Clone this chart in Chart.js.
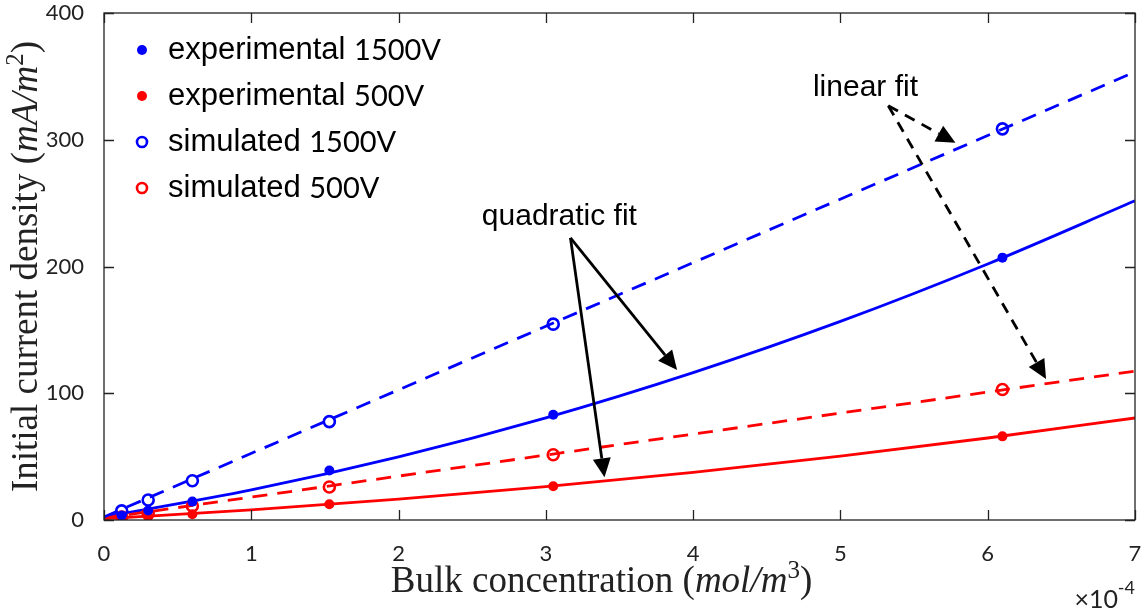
<!DOCTYPE html>
<html>
<head>
<meta charset="utf-8">
<script src="https://cdn.jsdelivr.net/npm/chart.js@4.4.1/dist/chart.umd.min.js"></script>
<style>
  html, body { margin: 0; padding: 0; background: #fff; }
</style>
</head>
<body>
<canvas id="chart" width="1145" height="612"></canvas>
<script>
// bulk concentration, in units of 1e-4 mol/m^3
const conc = [0.12, 0.3, 0.6, 1.53, 3.05, 6.1];
const exp1500 = [3.5, 7.5, 14.5, 39, 83, 207];
const exp500 = [1.2, 2.7, 4.6, 12.4, 26.6, 66];
const sim1500 = [7.2, 15.8, 31, 77.6, 154.5, 308.6];
const sim500 = [2.3, 5, 11, 26, 51.5, 103];

// fitted curves, sampled along the x range
const linX = [0, 7];
const lin1500 = [2.4, 353.5];
const lin500 = [1.5, 117.5];
const quadX = [0, 1, 2, 3, 4, 5, 6, 7];
const quad1500 = [2.5, 23.8, 49.8, 80.6, 116.3, 156.7, 202, 251.8];
const quad500 = [1, 8, 16.4, 26.3, 37.6, 50.4, 64.7, 80.5];

const xTicks = [0, 1, 2, 3, 4, 5, 6, 7];
const yTicks = [0, 100, 200, 300, 400];

// annotation arrows in data units: [fromX, fromY, toX, toY]
const linearArrows = [[5.325, 326.8, 5.781, 297.6], [5.325, 326.8, 6.396, 111.3]];
const quadArrows = [[3.167, 222.6, 3.891, 118.4], [3.167, 222.6, 3.398, 33.7]];
const linearLabel = { x: 5.17, y: 341, text: 'linear fit' };
const quadLabel = { x: 3.092, y: 239.2, text: 'quadratic fit' };

const BLUE = '#0000ff';
const RED = '#ff0000';
const AXIS = '#222222';
const NOTE_FONT = '30px "Liberation Sans"';
const LEGEND_FONT = '31px "Liberation Sans"';
const SERIF = '"Liberation Serif"';

const pts = (xs, ys) => xs.map((x, i) => ({ x: x, y: ys[i] }));

const legendItems = [
  { label: 'experimental ', volt: '1500V', color: BLUE, filled: true },
  { label: 'experimental ', volt: '500V', color: RED, filled: true },
  { label: 'simulated ', volt: '1500V', color: BLUE, filled: false },
  { label: 'simulated ', volt: '500V', color: RED, filled: false }
];

// draw a row of text pieces with different fonts, centred on (cx, cy)
function drawRuns(ctx, runs, cx, cy) {
  let total = 0;
  runs.forEach(r => { ctx.font = r.font; r.w = ctx.measureText(r.text).width; total += r.w; });
  let x = cx - total / 2;
  ctx.textBaseline = 'middle';
  ctx.textAlign = 'left';
  runs.forEach(r => {
    ctx.font = r.font;
    ctx.fillText(r.text, x, cy + (r.dy || 0));
    x += r.w;
  });
}

function arrow(ctx, x1, y1, x2, y2, dashed) {
  const ang = Math.atan2(y2 - y1, x2 - x1);
  const hl = 19, hw = 9;
  const bx = x2 - hl * Math.cos(ang), by = y2 - hl * Math.sin(ang);
  ctx.save();
  ctx.strokeStyle = '#000';
  ctx.fillStyle = '#000';
  ctx.lineWidth = 2.8;
  ctx.setLineDash(dashed ? [11, 8] : []);
  ctx.beginPath();
  ctx.moveTo(x1, y1);
  ctx.lineTo(bx, by);
  ctx.stroke();
  ctx.setLineDash([]);
  ctx.beginPath();
  ctx.moveTo(x2, y2);
  ctx.lineTo(bx + hw * Math.sin(ang), by - hw * Math.cos(ang));
  ctx.lineTo(bx - hw * Math.sin(ang), by + hw * Math.cos(ang));
  ctx.closePath();
  ctx.fill();
  ctx.restore();
}

const decorations = {
  id: 'decorations',
  afterDatasetsDraw(chart) {
    const ctx = chart.ctx;
    const a = chart.chartArea;
    const xs = chart.scales.x, ys = chart.scales.y;

    // box with inward ticks on all four sides
    ctx.save();
    ctx.strokeStyle = AXIS;
    ctx.lineWidth = 1.3;
    ctx.strokeRect(a.left, a.top, a.right - a.left, a.bottom - a.top);
    ctx.beginPath();
    xTicks.forEach(v => {
      const px = Math.round(xs.getPixelForValue(v)) + 0.5;
      ctx.moveTo(px, a.bottom); ctx.lineTo(px, a.bottom - 10);
      ctx.moveTo(px, a.top); ctx.lineTo(px, a.top + 10);
    });
    yTicks.forEach(v => {
      const py = Math.round(ys.getPixelForValue(v)) + 0.5;
      ctx.moveTo(a.left, py); ctx.lineTo(a.left + 10, py);
      ctx.moveTo(a.right, py); ctx.lineTo(a.right - 10, py);
    });
    ctx.stroke();
    ctx.restore();

    // fit annotations
    linearArrows.forEach(r => arrow(ctx, xs.getPixelForValue(r[0]), ys.getPixelForValue(r[1]),
      xs.getPixelForValue(r[2]), ys.getPixelForValue(r[3]), true));
    quadArrows.forEach(r => arrow(ctx, xs.getPixelForValue(r[0]), ys.getPixelForValue(r[1]),
      xs.getPixelForValue(r[2]), ys.getPixelForValue(r[3]), false));
    ctx.save();
    ctx.fillStyle = '#000';
    [linearLabel, quadLabel].forEach(l => {
      drawRuns(ctx, [{ text: l.text, font: NOTE_FONT }], xs.getPixelForValue(l.x), ys.getPixelForValue(l.y));
    });
    ctx.restore();

    // legend
    ctx.save();
    legendItems.forEach((it, i) => {
      const y = a.top + 37 + i * 46;
      const mx = 142;
      ctx.beginPath();
      if (it.filled) {
        ctx.arc(mx, y, 5, 0, Math.PI * 2);
        ctx.fillStyle = it.color;
        ctx.fill();
      } else {
        ctx.arc(mx, y, 5, 0, Math.PI * 2);
        ctx.strokeStyle = it.color;
        ctx.lineWidth = 2.6;
        ctx.stroke();
      }
      ctx.fillStyle = '#000';
      ctx.textBaseline = 'middle';
      ctx.textAlign = 'left';
      ctx.font = LEGEND_FONT;
      ctx.fillText(it.label, 168, y);
      const w = ctx.measureText(it.label).width;
      ctx.font = '29px Lato';
      ctx.fillText(it.volt, 168 + w, y + 1);
    });
    ctx.restore();
  },
  afterDraw(chart) {
    const ctx = chart.ctx;
    const a = chart.chartArea;
    ctx.save();
    ctx.fillStyle = AXIS;
    // x axis title
    drawRuns(ctx, [
      { text: 'Bulk concentration (', font: '37px ' + SERIF },
      { text: 'mol/m', font: 'italic 37px ' + SERIF },
      { text: '3', font: '25px ' + SERIF, dy: -11 },
      { text: ')', font: '37px ' + SERIF }
    ], (a.left + a.right) / 2 - 18, 582);
    // exponent below the x axis
    ctx.textAlign = 'right';
    ctx.textBaseline = 'alphabetic';
    ctx.font = '25px Lato';
    ctx.fillText('\u00d710', 1118, 608);
    ctx.font = '18px Lato';
    ctx.fillText('-4', 1135, 594);
    // y axis title
    ctx.translate(27, (a.top + a.bottom) / 2);
    ctx.rotate(-Math.PI / 2);
    drawRuns(ctx, [
      { text: 'Initial current density (', font: '37px ' + SERIF },
      { text: 'mA/m', font: 'italic 37px ' + SERIF },
      { text: '2', font: '25px ' + SERIF, dy: -11 },
      { text: ')', font: '37px ' + SERIF }
    ], 0, 0);
    ctx.restore();
  }
};

const fitStyle = { showLine: true, pointRadius: 0, borderWidth: 2.8, fill: false };

new Chart(document.getElementById('chart'), {
  type: 'scatter',
  data: {
    datasets: [
      { label: 'experimental 1500V', data: pts(conc, exp1500), pointRadius: 5, pointBackgroundColor: BLUE, pointBorderColor: BLUE, pointBorderWidth: 0, order: 0 },
      { label: 'experimental 500V', data: pts(conc, exp500), pointRadius: 5, pointBackgroundColor: RED, pointBorderColor: RED, pointBorderWidth: 0, order: 0 },
      { label: 'simulated 1500V', data: pts(conc, sim1500), pointRadius: 5.5, pointBackgroundColor: 'rgba(0,0,0,0)', pointBorderColor: BLUE, pointBorderWidth: 2.6, order: 0 },
      { label: 'simulated 500V', data: pts(conc, sim500), pointRadius: 5.5, pointBackgroundColor: 'rgba(0,0,0,0)', pointBorderColor: RED, pointBorderWidth: 2.6, order: 0 },
      Object.assign({ label: 'linear fit 1500V', data: pts(linX, lin1500), borderColor: BLUE, borderDash: [15, 10], order: 1 }, fitStyle),
      Object.assign({ label: 'linear fit 500V', data: pts(linX, lin500), borderColor: RED, borderDash: [15, 10], order: 1 }, fitStyle),
      Object.assign({ label: 'quadratic fit 1500V', data: pts(quadX, quad1500), borderColor: BLUE, cubicInterpolationMode: 'monotone', order: 1 }, fitStyle),
      Object.assign({ label: 'quadratic fit 500V', data: pts(quadX, quad500), borderColor: RED, cubicInterpolationMode: 'monotone', order: 1 }, fitStyle)
    ]
  },
  options: {
    responsive: false,
    animation: false,
    devicePixelRatio: 1,
    layout: { padding: { top: 13, right: 10, left: 0, bottom: 0 } },
    plugins: { legend: { display: false }, tooltip: { enabled: false } },
    scales: {
      x: {
        type: 'linear', min: 0, max: 7,
        afterBuildTicks: s => { s.ticks = xTicks.map(v => ({ value: v })); },
        afterFit: s => { s.height = 92; s.paddingLeft = 0; s.paddingRight = 0; },
        grid: { display: false }, border: { display: false },
        ticks: { font: { family: 'Lato', size: 22 }, color: AXIS, padding: 13, maxRotation: 0 }
      },
      y: {
        type: 'linear', min: 0, max: 400,
        afterBuildTicks: s => { s.ticks = yTicks.map(v => ({ value: v })); },
        afterFit: s => { s.width = 104; s.paddingTop = 0; s.paddingBottom = 0; },
        grid: { display: false }, border: { display: false },
        ticks: { font: { family: 'Lato', size: 22 }, color: AXIS, padding: 12 }
      }
    }
  },
  plugins: [decorations]
});
</script>
</body>
</html>
